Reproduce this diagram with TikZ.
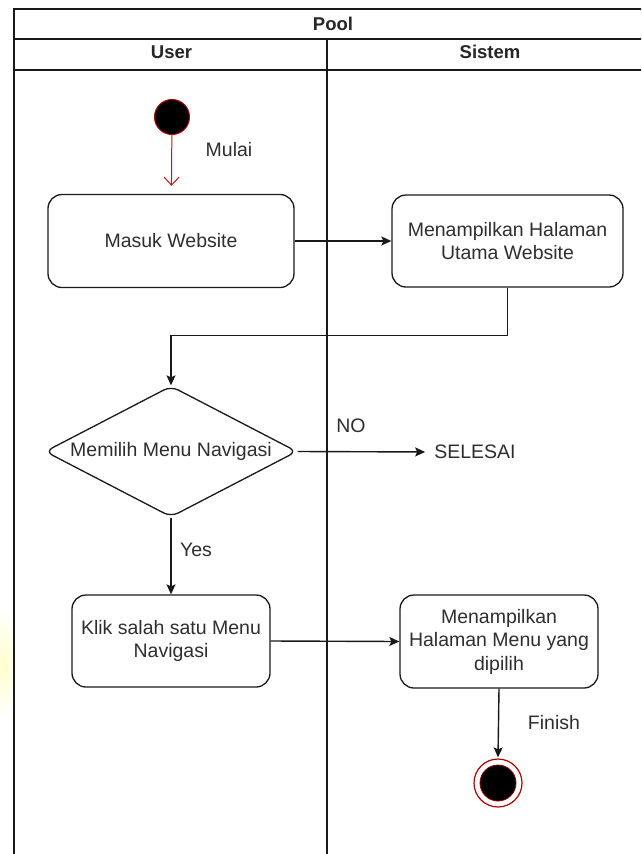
\documentclass[tikz,border=0pt]{standalone}
\usepackage{fontspec}
\setmainfont{Liberation Sans}
\usetikzlibrary{shapes.geometric,arrows.meta}

\definecolor{txt}{HTML}{2E2E2E}
\definecolor{startred}{HTML}{B00000}
\definecolor{barbred}{HTML}{CC1111}

\begin{document}
\begin{tikzpicture}[x=1pt,y=-1pt,
  every node/.style={font=\fontsize{19.5}{23.5}\selectfont, text=txt},
  action/.style={draw=black!90, line width=1.3pt, rounded corners=14pt, fill=white,
    align=center, inner sep=0pt},
  decision/.style={diamond, draw=black!90, line width=1.3pt, rounded corners=8pt, fill=white,
    inner sep=0pt, minimum width=252pt, minimum height=131pt, aspect=1.92},
  flow/.style={line width=1.4pt, draw=black!90, -{Stealth[length=10pt,width=9pt,inset=2pt]}},
  lane/.style={line width=1.6pt, draw=black!90},
  header/.style={font=\fontsize{18.5}{22}\selectfont\bfseries, text=black!85, inner sep=0pt},
  lbl/.style={inner sep=0pt}
]
\useasboundingbox (0,0) rectangle (641,854);
\clip (0,0) rectangle (641,854);
\fill[white] (0,0) rectangle (641,854);

% faint yellow glow at the left margin
\begin{scope}
  \clip (0,0) rectangle (13,854);
  \shade[inner color=yellow!22, outer color=white] (4,665) ellipse [x radius=12, y radius=55];
\end{scope}

% pool and swimlanes (the pool runs on past the right edge)
\draw[lane] (14,860) -- (14,9) -- (670,9);
\draw[lane] (14,39) -- (670,39);
\draw[lane] (14,70) -- (670,70);
\draw[lane] (327,39) -- (327,860);
\node[header, anchor=base] (pool) at (333,30) {Pool};
\node[header, anchor=base] (user) at (171.5,58.5) {User};
\node[header, anchor=base] (sistem) at (490,58.5) {Sistem};

% activities
\node[circle, fill=black, draw=startred, line width=1pt, minimum size=35pt, inner sep=0pt] (start) at (172,117) {};
\node[lbl] (mulai) at (229,150) {Mulai};

\node[action, minimum width=246pt, minimum height=93pt] (masuk) at (171,241) {Masuk Website};
\node[action, minimum width=231pt, minimum height=92pt] (utama) at (507.5,241) {Menampilkan Halaman\\Utama Website};

\node[decision] (pilih) at (171,451.5) {Memilih Menu Navigasi};
\node[lbl] (no) at (351,426) {NO};
\node[lbl] (selesai) at (475,452) {SELESAI};
\node[lbl] (yes) at (196,550) {Yes};

\node[action, minimum width=198pt, minimum height=92pt] (klik) at (171,641) {Klik salah satu Menu\\Navigasi};
\node[action, minimum width=198pt, minimum height=93pt] (tampil) at (499,641.5) {Menampilkan\\Halaman Menu yang\\dipilih};

\node[lbl] (finish) at (554,723) {Finish};
\node[circle, draw=startred, line width=1.2pt, minimum size=48pt, inner sep=0pt, fill=white] (end) at (498,783) {};
\node[circle, fill=black, draw=startred!80!black, line width=0.8pt, minimum size=36pt, inner sep=0pt] (endcore) at (end) {};

% control flow
\draw[barbred, line width=1pt, -{Straight Barb[length=8pt,width=15pt]}, shorten >=8pt] (start) -- (masuk);
\draw[flow] (masuk.east) -- (utama.west);
\draw[flow] (utama.south) -- ++(0,48) -| (pilih.north);
\draw[flow, shorten >=9pt] (pilih.east) -- (selesai.west);
\draw[flow] (pilih.south) -- (klik.north);
\draw[flow] (klik.east) -- (tampil.west);
\draw[flow, shorten >=1pt] (tampil.south) -- (end.north);
\end{tikzpicture}
\end{document}
